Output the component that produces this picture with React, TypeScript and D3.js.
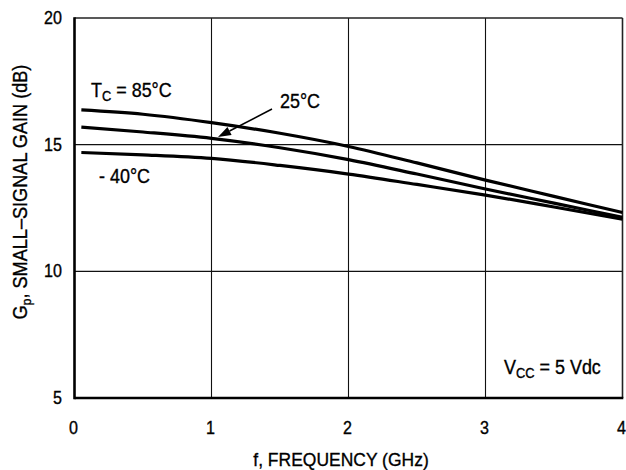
import React, { useEffect, useRef } from 'react';
import * as d3 from 'd3';

// Frequency (GHz) sample points
const freqs = [0.05, 0.5, 1, 1.5, 2, 2.5, 3, 3.5, 4];

// Small-signal gain (dB) per case temperature
const gain85 = [16.37, 16.2, 15.87, 15.45, 14.93, 14.28, 13.6, 12.96, 12.32];
const gain25 = [15.69, 15.5, 15.25, 14.88, 14.41, 13.84, 13.25, 12.69, 12.13];
const gainMinus40 = [14.69, 14.6, 14.46, 14.18, 13.84, 13.43, 13.01, 12.54, 12.06];

const xTicks = [0, 1, 2, 3, 4];
const yTicks = [5, 10, 15, 20];

const FONT = '"Liberation Sans", Arial, Helvetica, sans-serif';

type Sel = d3.Selection<SVGSVGElement, unknown, null, undefined>;

// text squeezed horizontally a bit, to look like the condensed face of the original
const addText = (svg: Sel, x: number, y: number, size: number, sx: number, anchor = 'start', rotate = 0) => {
  const g = svg.append('g')
    .attr('transform', `translate(${x},${y}) rotate(${rotate}) scale(${sx},1)`);
  return g.append('text')
    .attr('text-anchor', anchor)
    .style('font-family', FONT)
    .style('font-size', `${size}px`)
    .style('fill', '#000')
    .style('stroke', '#000')
    .style('stroke-width', '0.35px');
};

const App: React.FC = () => {
  const svgRef = useRef<SVGSVGElement>(null);

  useEffect(() => {
    if (!svgRef.current) return;

    const svg = d3.select(svgRef.current);
    svg.selectAll('*').remove();

    const left = 74.5;
    const right = 622.5;
    const top = 18;
    const bottom = 398;

    const x = d3.scaleLinear().domain([0, 4]).range([left, right]);
    const y = d3.scaleLinear().domain([5, 20]).range([bottom, top]);

    // grid
    svg.append('g')
      .selectAll('line')
      .data(xTicks.slice(1, -1))
      .join('line')
      .attr('x1', d => x(d)).attr('x2', d => x(d))
      .attr('y1', top).attr('y2', bottom)
      .attr('stroke', '#111').attr('stroke-width', 1.1);

    svg.append('g')
      .selectAll('line')
      .data(yTicks.slice(1, -1))
      .join('line')
      .attr('x1', left).attr('x2', right)
      .attr('y1', d => y(d)).attr('y2', d => y(d))
      .attr('stroke', '#111').attr('stroke-width', 1.1);

    // frame: top/right lighter, left/bottom heavy
    svg.append('line')
      .attr('x1', left).attr('x2', right).attr('y1', top).attr('y2', top)
      .attr('stroke', '#222').attr('stroke-width', 1.6);
    svg.append('line')
      .attr('x1', right).attr('x2', right).attr('y1', top).attr('y2', bottom)
      .attr('stroke', '#222').attr('stroke-width', 1.6);
    svg.append('line')
      .attr('x1', left).attr('x2', left).attr('y1', top - 0.8).attr('y2', bottom + 1.2)
      .attr('stroke', '#000').attr('stroke-width', 2.6);
    svg.append('line')
      .attr('x1', left).attr('x2', right + 0.8).attr('y1', bottom).attr('y2', bottom)
      .attr('stroke', '#000').attr('stroke-width', 2.6);

    // curves
    const line = d3.line<number>()
      .x((_, i) => x(freqs[i]))
      .y(d => y(d))
      .curve(d3.curveMonotoneX);

    [gain85, gain25, gainMinus40].forEach(series => {
      svg.append('path')
        .datum(series)
        .attr('d', line)
        .attr('fill', 'none')
        .attr('stroke', '#000')
        .attr('stroke-width', 3.2);
    });

    // tick labels
    xTicks.forEach(d => {
      addText(svg, x(d) - 1, 434, 17.5, 0.92, 'middle').text(String(d));
    });
    yTicks.forEach(d => {
      addText(svg, 62, y(d) + 6, 17.5, 0.92, 'end').text(String(d));
    });

    // axis titles
    addText(svg, 341, 466, 19, 0.92, 'middle').text('f, FREQUENCY (GHz)');

    const yTitle = addText(svg, 27, 192, 19.5, 0.93, 'middle', -90);
    yTitle.append('tspan').text('G');
    yTitle.append('tspan').attr('dy', 4).style('font-size', '13px').text('p');
    yTitle.append('tspan').attr('dy', -4).text(', SMALL–SIGNAL GAIN (dB)');

    // curve annotations
    const tc = addText(svg, 91, 97, 19.5, 0.92);
    tc.append('tspan').text('T');
    tc.append('tspan').attr('dy', 4).style('font-size', '14px').text('C');
    tc.append('tspan').attr('dy', -4).text(' = 85°C');

    addText(svg, 280, 108, 19.5, 0.92).text('25°C');
    addText(svg, 99, 183, 19.5, 0.92).text('- 40°C');

    const vcc = addText(svg, 504, 374, 19.5, 0.92);
    vcc.append('tspan').text('V');
    vcc.append('tspan').attr('dy', 4).style('font-size', '14px').text('CC');
    vcc.append('tspan').attr('dy', -4).text(' = 5 Vdc');

    // arrow pointing at the 25°C curve
    const x0 = 272, y0 = 109, x1 = 218, y1 = 137;
    const ang = Math.atan2(y1 - y0, x1 - x0);
    const headLen = 13, headW = 4.5;
    const bx = x1 - headLen * Math.cos(ang);
    const by = y1 - headLen * Math.sin(ang);
    svg.append('line')
      .attr('x1', x0).attr('y1', y0).attr('x2', bx).attr('y2', by)
      .attr('stroke', '#000').attr('stroke-width', 1.5);
    svg.append('path')
      .attr('d', `M${x1},${y1} L${bx + headW * Math.sin(ang)},${by - headW * Math.cos(ang)} L${bx - headW * Math.sin(ang)},${by + headW * Math.cos(ang)} Z`)
      .attr('fill', '#000');
  }, []);

  return (
    <svg
      ref={svgRef}
      width={626}
      height={470}
      style={{ position: 'absolute', left: 0, top: 0, background: '#fff' }}
    />
  );
};

export default App;
